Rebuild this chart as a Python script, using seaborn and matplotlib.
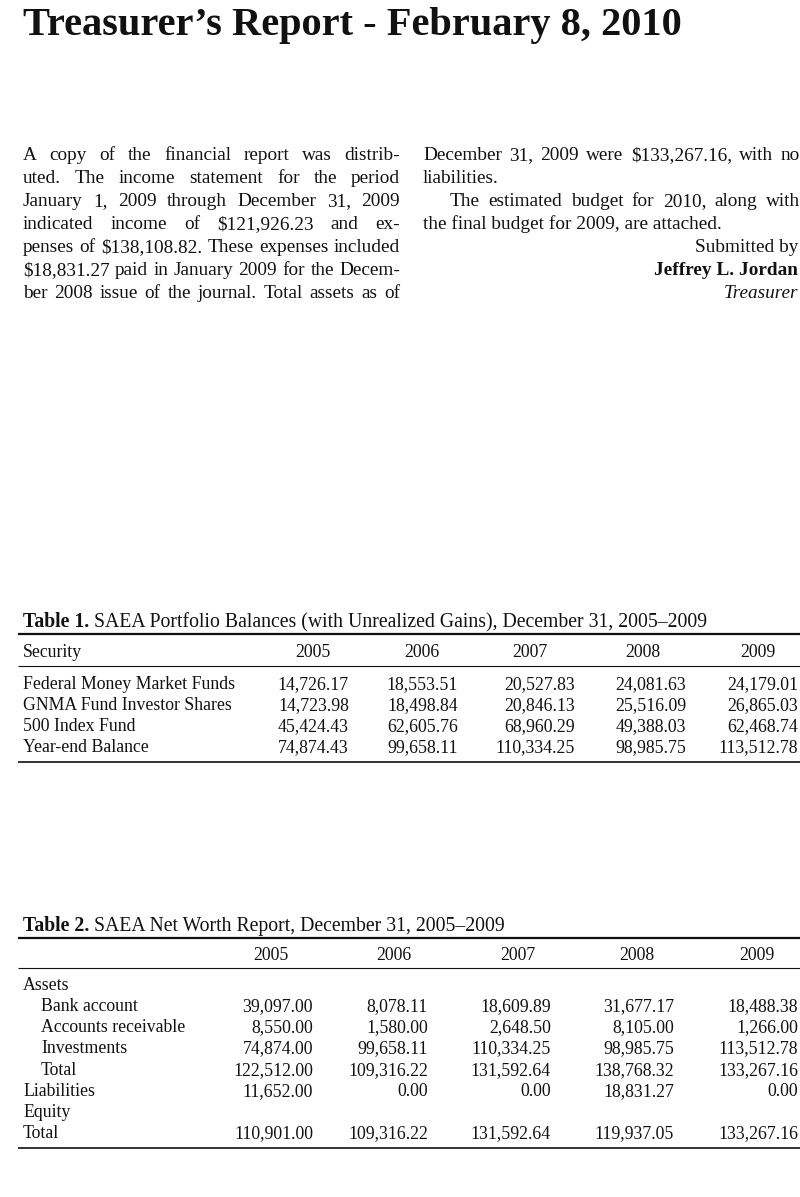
import matplotlib
matplotlib.use("Agg")
import matplotlib.pyplot as plt
import seaborn as sns

# ---------------- data ----------------
title = "Treasurer\u2019s Report - February 8, 2010"

left_lines = [
    "A copy of the financial report was distrib-",
    "uted. The income statement for the period",
    "January 1, 2009 through December 31, 2009",
    "indicated income of $121,926.23 and ex-",
    "penses of $138,108.82. These expenses included",
    "$18,831.27 paid in January 2009 for the Decem-",
    "ber 2008 issue of the journal. Total assets as of",
]
right_lines = [
    "December 31, 2009 were $133,267.16, with no",
    "liabilities.",
    "The estimated budget for 2010, along with",
    "the final budget for 2009, are attached.",
]
signature = ["Submitted by", "Jeffrey L. Jordan", "Treasurer"]

years = ["2005", "2006", "2007", "2008", "2009"]

t1_caption_bold = "Table 1."
t1_caption = "SAEA Portfolio Balances (with Unrealized Gains), December 31, 2005\u20132009"
t1_header = "Security"
t1_rows = ["Federal Money Market Funds", "GNMA Fund Investor Shares",
           "500 Index Fund", "Year-end Balance"]
t1_federal = [14726.17, 18553.51, 20527.83, 24081.63, 24179.01]
t1_gnma = [14723.98, 18498.84, 20846.13, 25516.09, 26865.03]
t1_index500 = [45424.43, 62605.76, 68960.29, 49388.03, 62468.74]
t1_balance = [74874.43, 99658.11, 110334.25, 98985.75, 113512.78]

t2_caption_bold = "Table 2."
t2_caption = "SAEA Net Worth Report, December 31, 2005\u20132009"
t2_rows = ["Assets", "Bank account", "Accounts receivable", "Investments",
           "Total", "Liabilities", "Equity", "Total"]
t2_indent = [False, True, True, True, True, False, False, False]
t2_bank = [39097.00, 8078.11, 18609.89, 31677.17, 18488.38]
t2_receivable = [8550.00, 1580.00, 2648.50, 8105.00, 1266.00]
t2_investments = [74874.00, 99658.11, 110334.25, 98985.75, 113512.78]
t2_assets_total = [122512.00, 109316.22, 131592.64, 138768.32, 133267.16]
t2_liabilities = [11652.00, 0.00, 0.00, 18831.27, 0.00]
t2_total = [110901.00, 109316.22, 131592.64, 119937.05, 133267.16]

# ---------------- figure ----------------
sns.set_theme(style="white")
plt.rcParams['font.family'] = ['Liberation Serif', 'DejaVu Serif']

W, H = 800, 1197
fig = plt.figure(figsize=(8, 11.97), dpi=100)
fig.patch.set_facecolor("white")
ax = fig.add_axes([0, 0, 1, 1])
ax.set_xlim(0, W)
ax.set_ylim(H, 0)
ax.set_facecolor("white")
sns.despine(ax=ax, left=True, bottom=True)
ax.set_xticks([])
ax.set_yticks([])
renderer = fig.canvas.get_renderer()

INK = "#111111"


def txt(x, y, s, size, ha="left", **kw):
    return ax.text(x, y, s, fontsize=size, ha=ha, va="baseline",
                   color=INK, parse_math=False, **kw)


def width(t):
    return t.get_window_extent(renderer).width


def justify(line, x0, x1, yb, size, **kw):
    words = line.split()
    ts = [txt(0, yb, w, size, **kw) for w in words]
    ws = [width(t) for t in ts]
    gap = (x1 - x0 - sum(ws)) / max(len(words) - 1, 1)
    x = x0
    for t, w in zip(ts, ws):
        t.set_x(x)
        x += w + gap


# title, fitted to width
tt = txt(23, 35, title, 30, fontweight="bold")
tt.set_fontsize(30 * 659 / width(tt))

# body text
BODY = 13.9
base = [160, 183, 206, 229, 252, 275, 298]
for line, yb in zip(left_lines, base):
    justify(line, 23, 400, yb, BODY)
justify(right_lines[0], 423, 800, base[0], BODY)
txt(423, base[1], right_lines[1], BODY)
justify(right_lines[2], 450, 800, base[2], BODY)
txt(423, base[3], right_lines[3], BODY)
txt(798, base[4], signature[0], BODY, ha="right")
txt(798, base[5], signature[1], BODY, ha="right", fontweight="bold")
txt(798, base[6], signature[2], BODY, ha="right", fontstyle="italic")

TAB = 12.8
CAP = 14.2
fmt = lambda v: f"{v:,.2f}"


def caption(y, bold, rest):
    b = txt(23, y, bold, CAP, fontweight="bold")
    txt(23 + width(b) + 5, y, rest, CAP)


# ---------------- Table 1 ----------------
caption(627, t1_caption_bold, t1_caption)
ax.hlines(634, 18, 800, color=INK, lw=1.6)
t1_head_x = [313, 422, 530, 643, 758]
t1_val_x = [349, 458, 575, 686, 798]
txt(23, 657, t1_header, TAB)
for x, y in zip(t1_head_x, years):
    txt(x, 657, y, TAB, ha="center")
ax.hlines(666, 18, 800, color=INK, lw=0.8)
t1_values = [t1_federal, t1_gnma, t1_index500, t1_balance]
for yb, lab, vals in zip([689, 710, 731, 752], t1_rows, t1_values):
    txt(23, yb, lab, TAB)
    for x, v in zip(t1_val_x, vals):
        txt(x, yb, fmt(v), TAB, ha="right")
ax.hlines(762, 18, 800, color=INK, lw=1.2)

# ---------------- Table 2 ----------------
caption(931, t2_caption_bold, t2_caption)
ax.hlines(938, 18, 800, color=INK, lw=1.6)
t2_head_x = [271, 394, 518, 637, 757]
t2_val_x = [313, 428, 551, 674, 798]
for x, y in zip(t2_head_x, years):
    txt(x, 960, y, TAB, ha="center")
ax.hlines(968, 18, 800, color=INK, lw=0.8)
t2_values = [None, t2_bank, t2_receivable, t2_investments, t2_assets_total,
             t2_liabilities, None, t2_total]
t2_y = [990, 1011, 1032, 1053, 1075, 1096, 1117, 1138]
for yb, lab, ind, vals in zip(t2_y, t2_rows, t2_indent, t2_values):
    txt(41 if ind else 23, yb, lab, TAB)
    if vals is not None:
        for x, v in zip(t2_val_x, vals):
            txt(x, yb, fmt(v), TAB, ha="right")
ax.hlines(1148, 18, 800, color=INK, lw=1.2)

fig.savefig("out.png", dpi=100, facecolor="white")
